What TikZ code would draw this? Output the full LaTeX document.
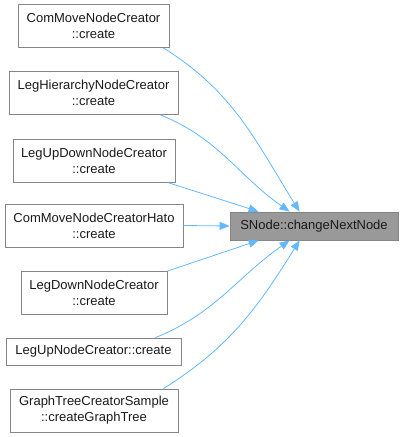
\documentclass[tikz,border=0pt]{standalone}
\usepackage{fontspec}
\setmainfont{Liberation Sans}
\usepackage{xcolor}
\usepackage{tikz}
\usetikzlibrary{arrows.meta, positioning}
\definecolor{graphedge}{HTML}{63B8FF}
\definecolor{graphborder}{HTML}{858585}
\definecolor{graphtarget}{HTML}{999999}
\definecolor{graphtext}{HTML}{1A1A1A}

\tikzset{
    callerbox/.style={draw=graphborder, fill=white, line width=0.8pt, text=graphtext, inner sep=0pt,
        font=\fontsize{13}{16}\selectfont, align=center, minimum height=43pt},
    targetbox/.style={callerbox, fill=graphtarget, minimum height=28pt},
    callarrow/.style={draw=graphedge, line width=0.8pt, -{Triangle[length=10pt, width=8pt]}}
}

\begin{document}
\begin{tikzpicture}[x=1pt, y=1pt]
    \useasboundingbox (0,0) rectangle (403,-437);

    % target
    \node[targetbox, minimum width=168pt] (target) at (314,-226) {SNode::changeNextNode};

    % callers
    \node[callerbox, minimum width=151pt] (comMove) at (93.5,-26) {ComMoveNodeCreator\\::create};
    \node[callerbox, minimum width=169pt] (legHierarchy) at (93.5,-93) {LegHierarchyNodeCreator\\::create};
    \node[callerbox, minimum width=162pt] (legUpDown) at (94,-160.5) {LegUpDownNodeCreator\\::create};
    \node[callerbox, minimum width=178pt] (comMoveHato) at (94,-225.5) {ComMoveNodeCreatorHato\\::create};
    \node[callerbox, minimum width=146pt] (legDown) at (94,-293) {LegDownNodeCreator\\::create};
    \node[callerbox, minimum width=175pt, minimum height=27pt] (legUp) at (93.5,-351.5) {LegUpNodeCreator::create};
    \node[callerbox, minimum width=168pt] (graphTree) at (94,-410.5) {GraphTreeCreatorSample\\::createGraphTree};

    % calls
    \draw[callarrow] ([xshift=-6pt]comMove.south east) to[out=-32, in=122] ([xshift=70pt]target.north west);
    \draw[callarrow] ([xshift=-18pt]legHierarchy.south east) to[out=-22, in=145] ([xshift=60pt]target.north west);
    \draw[callarrow] ([xshift=-8pt]legUpDown.south east) -- ([xshift=29pt]target.north west);
    \draw[callarrow] (comMoveHato.east) -- (target.west);
    \draw[callarrow] ([xshift=0pt]legDown.north east) -- ([xshift=29pt]target.south west);
    \draw[callarrow] ([xshift=-26pt]legUp.north east) to[out=22, in=-145] ([xshift=60pt]target.south west);
    \draw[callarrow] ([xshift=-15pt]graphTree.north east) to[out=32, in=-122] ([xshift=70pt]target.south west);
\end{tikzpicture}
\end{document}
